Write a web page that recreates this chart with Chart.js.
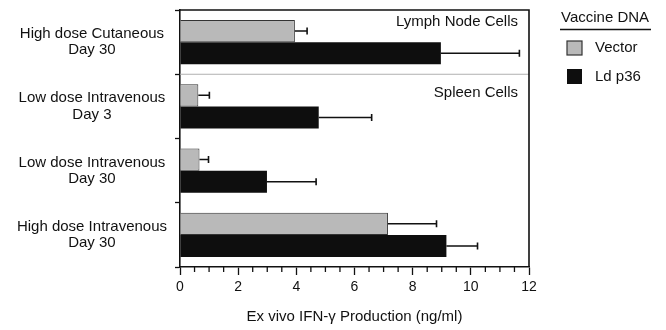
<!DOCTYPE html>
<html>
<head>
<meta charset="utf-8">
<script src="https://cdn.jsdelivr.net/npm/chart.js"></script>
<style>
  html, body { margin: 0; padding: 0; background: #fff; }
  #chart { display: block; }
</style>
</head>
<body>
<canvas id="chart" width="666" height="330"></canvas>
<script>
// groups shown top to bottom
const groups = [
    ['High dose Cutaneous', 'Day 30'],
    ['Low dose Intravenous', 'Day 3'],
    ['Low dose Intravenous', 'Day 30'],
    ['High dose Intravenous', 'Day 30']
];
const vectorValues = [3.95, 0.63, 0.67, 7.15];
const vectorErrors = [0.42, 0.38, 0.31, 1.67];
const p36Values = [8.97, 4.77, 2.99, 9.16];
const p36Errors = [2.70, 1.82, 1.69, 1.07];
const xTicks = [0, 2, 4, 6, 8, 10, 12];

const FONT = 'Liberation Sans, Arial, Helvetica, sans-serif';

// error bars, frame, panel notes and legend
const extras = {
    id: 'extras',
    afterDatasetsDraw(chart) {
        const ctx = chart.ctx;
        const x = chart.scales.x;
        const area = chart.chartArea;
        const sets = [[vectorValues, vectorErrors], [p36Values, p36Errors]];
        ctx.save();
        ctx.strokeStyle = '#111';
        ctx.lineWidth = 1.6;
        sets.forEach((s, di) => {
            const meta = chart.getDatasetMeta(di);
            meta.data.forEach((bar, i) => {
                const x0 = x.getPixelForValue(s[0][i]);
                const x1 = x.getPixelForValue(s[0][i] + s[1][i]);
                ctx.beginPath();
                ctx.moveTo(x0, bar.y);
                ctx.lineTo(x1, bar.y);
                ctx.moveTo(x1, bar.y - 3.5);
                ctx.lineTo(x1, bar.y + 3.5);
                ctx.stroke();
            });
        });

        // separator between lymph node and spleen panels
        const ys = chart.scales.y;
        const sepY = (ys.getPixelForValue(0) + ys.getPixelForValue(1)) / 2;
        ctx.strokeStyle = '#b0b0b0';
        ctx.lineWidth = 1;
        ctx.beginPath();
        ctx.moveTo(area.left, sepY);
        ctx.lineTo(area.right, sepY);
        ctx.stroke();

        // top and right frame
        ctx.strokeStyle = '#111';
        ctx.lineWidth = 1.6;
        ctx.beginPath();
        ctx.moveTo(area.left, area.top);
        ctx.lineTo(area.right, area.top);
        ctx.lineTo(area.right, area.bottom);
        ctx.stroke();

        // minor ticks on x
        ctx.lineWidth = 1.3;
        for (let v = 0.5; v < 12; v += 0.5) {
            if (v % 2 === 0) continue;
            const px = x.getPixelForValue(v);
            ctx.beginPath();
            ctx.moveTo(px, area.bottom);
            ctx.lineTo(px, area.bottom + 5);
            ctx.stroke();
        }

        // panel notes
        ctx.fillStyle = '#111';
        ctx.font = '15px ' + FONT;
        ctx.textAlign = 'right';
        ctx.textBaseline = 'middle';
        ctx.fillText('Lymph Node Cells', area.right - 11, area.top + 12);
        ctx.fillText('Spleen Cells', area.right - 11, sepY + 19);

        // legend
        ctx.textAlign = 'left';
        ctx.fillText('Vaccine DNA', 561, 18);
        ctx.lineWidth = 1.5;
        ctx.beginPath();
        ctx.moveTo(560, 29.5);
        ctx.lineTo(651, 29.5);
        ctx.stroke();
        ctx.fillStyle = '#b9b9b9';
        ctx.fillRect(567, 41, 15, 14);
        ctx.strokeStyle = '#333';
        ctx.lineWidth = 1.2;
        ctx.strokeRect(567, 41, 15, 14);
        ctx.fillStyle = '#0e0e0e';
        ctx.fillRect(567, 69, 15, 15);
        ctx.fillStyle = '#111';
        ctx.fillText('Vector', 595, 48);
        ctx.fillText('Ld p36', 595, 77);
        ctx.restore();
    }
};

new Chart(document.getElementById('chart'), {
    type: 'bar',
    data: {
        labels: groups,
        datasets: [
            {
                label: 'Vector',
                data: vectorValues,
                backgroundColor: '#b9b9b9',
                borderColor: '#333',
                borderWidth: 1,
                borderSkipped: 'left'
            },
            {
                label: 'Ld p36',
                data: p36Values,
                backgroundColor: '#0e0e0e',
                borderColor: '#0e0e0e',
                borderWidth: 0
            }
        ]
    },
    options: {
        indexAxis: 'y',
        responsive: false,
        animation: false,
        devicePixelRatio: 1,
        categoryPercentage: 0.69,
        barPercentage: 1,
        layout: { padding: { left: 0, right: 137, top: 10, bottom: 0 } },
        plugins: {
            legend: { display: false },
            tooltip: { enabled: false }
        },
        scales: {
            x: {
                min: 0,
                max: 12,
                afterBuildTicks(scale) {
                    scale.ticks = xTicks.map(v => ({ value: v }));
                },
                afterFit(scale) {
                    scale.height = 63;
                    scale.paddingLeft = 0;
                    scale.paddingRight = 0;
                },
                grid: { drawOnChartArea: false, tickLength: 8, tickColor: '#111', tickWidth: 1.3 },
                border: { color: '#111', width: 1.6 },
                ticks: { color: '#111', font: { family: FONT, size: 14 }, padding: 4, maxRotation: 0 },
                title: {
                    display: true,
                    text: 'Ex vivo IFN-\u03b3 Production (ng/ml)',
                    color: '#111',
                    font: { family: FONT, size: 15 },
                    padding: { top: 12 }
                }
            },
            y: {
                afterFit(scale) {
                    scale.width = 180;
                    scale.paddingTop = 0;
                    scale.paddingBottom = 0;
                },
                grid: { offset: true, drawOnChartArea: false, tickLength: 5, tickColor: '#111', tickWidth: 1.3 },
                border: { color: '#111', width: 1.6 },
                ticks: {
                    color: '#111',
                    font: { family: FONT, size: 15, lineHeight: 1.08 },
                    crossAlign: 'center',
                    padding: 8
                }
            }
        }
    },
    plugins: [extras]
});
</script>
</body>
</html>
